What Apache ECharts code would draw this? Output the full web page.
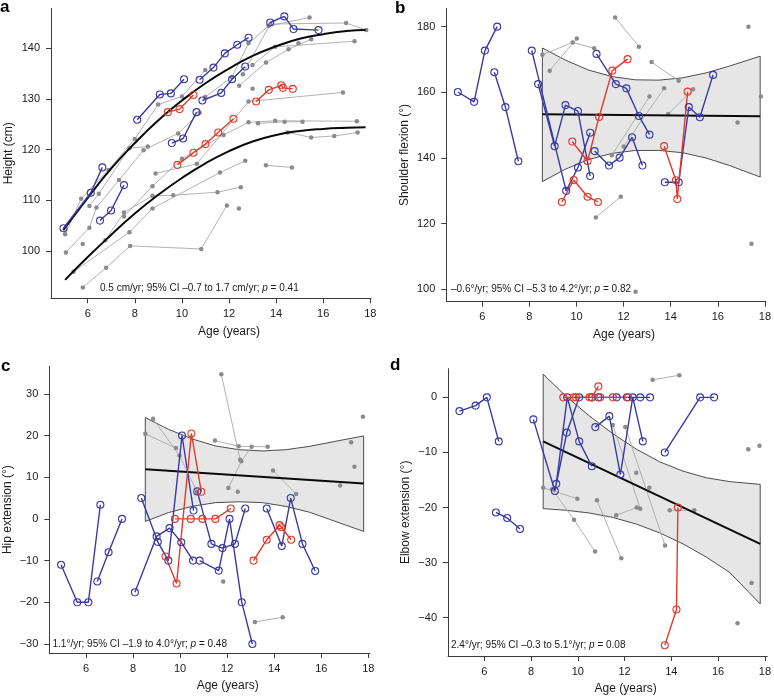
<!DOCTYPE html>
<html><head><meta charset="utf-8">
<script src="https://cdn.jsdelivr.net/npm/echarts@6/dist/echarts.min.js"></script>
<style>html,body{margin:0;padding:0;background:#fff}#chart{width:774px;height:696px}</style>
</head><body><div id="chart"></div>
<script>
// ---------- tick labels ----------
const ageTicks = [6, 8, 10, 12, 14, 16, 18];
const heightTicks = [100, 110, 120, 130, 140];
const shoulderTicks = [100, 120, 140, 160, 180];
const hipTicks = [-30, -20, -10, 0, 10, 20, 30];
const elbowTicks = [-40, -30, -20, -10, 0];

// ---------- panel a: height ----------
const heightBlue = [
  [[4.97,104.5],[6.13,111.5],[6.62,116.5]],
  [[6.52,106.0],[6.99,108.0],[7.54,113.0]],
  [[8.10,125.9],[9.06,130.9],[9.53,131.1],[10.09,133.9]],
  [[9.57,121.3],[10.05,122.2],[10.62,127.4]],
  [[10.87,129.7],[11.67,131.2],[12.13,133.9],[12.69,136.4]],
  [[10.75,133.8],[11.34,136.2],[11.82,139.0],[12.35,140.7],[12.83,142.1]],
  [[13.75,145.1],[14.35,146.3],[14.74,143.8],[15.80,143.6]]
];
const heightRed = [
  [[9.40,127.4],[9.90,128.0],[10.49,130.8]],
  [[9.81,117.0],[10.49,119.4],[11.00,121.1],[11.54,123.4],[12.19,126.1]],
  [[13.15,129.5],[13.69,131.8],[14.22,132.7],[14.29,132.2],[14.71,132.0]]
];
const heightGray = [
  [[5.04,103.3],[5.72,110.3],[6.88,116.0],[8.00,122.1],[8.99,128.9],[10.00,130.5],[10.99,135.7]],
  [[5.07,99.7],[6.07,104.6],[6.37,108.6],[7.33,114.0],[8.37,119.9],[9.84,123.2],[10.75,127.3]],
  [[5.79,92.8],[6.78,96.7],[7.80,101.0],[10.82,100.4],[11.91,109.0]],
  [[6.75,102.1],[7.54,107.6],[8.75,110.9],[9.63,111.0],[11.51,111.6],[12.50,112.6]],
  [[5.40,95.9],[7.77,103.7],[8.75,108.4],[11.62,115.5],[12.69,117.8]],
  [[7.54,106.8],[8.75,112.8],[10.00,118.2],[11.77,122.9],[12.83,125.4],[13.96,125.7],[17.43,125.6]],
  [[6.07,108.9],[6.47,111.3],[7.77,120.3],[8.55,120.6]],
  [[8.88,115.3],[10.63,117.2],[12.83,129.5],[16.84,131.3]],
  [[10.99,130.4],[12.12,134.3],[12.83,141.0],[13.68,144.4],[15.42,146.1]],
  [[12.59,134.9],[13.75,144.8],[16.97,145.0],[17.83,143.6]],
  [[13.00,136.7],[13.96,140.3],[17.33,141.4]],
  [[12.43,132.6],[13.57,137.2],[14.53,139.8],[15.49,141.8]],
  [[13.23,125.2],[14.36,125.5],[15.12,125.5]],
  [[14.49,123.4],[15.49,122.4],[16.47,122.7],[17.46,123.4]],
  [[13.57,116.9],[14.67,116.5]],
  [[14.95,141.0]], [[13.00,132.0]], [[12.42,108.4]], [[5.79,101.4]]
];
const heightUpperCurve = [[4.96,104.1],[6,110.5],[7,116.3],[8,121.3],[9,125.8],[10,129.7],[11,133.1],[12,136.0],[13,138.5],[14,140.4],[15,141.9],[16,142.8],[17,143.4],[17.8,143.6]];
const heightLowerCurve = [[5.04,94.3],[6,98.8],[7,103.2],[8,107.4],[9,111.1],[10,114.4],[11,117.3],[12,119.7],[13,121.6],[14,122.9],[15,123.7],[16,124.1],[17,124.3],[17.8,124.4]];

// ---------- panel b: shoulder flexion ----------
const shoulderBlue = [
  [[4.96,160.1],[5.65,157.1],[6.11,172.7],[6.63,180.0]],
  [[6.51,166.1],[6.98,155.5],[7.53,139.0]],
  [[8.10,172.7],[9.56,130.0],[10.06,137.1],[10.58,147.7]],
  [[8.37,162.5],[9.07,143.6],[9.53,156.1],[10.06,154.3],[10.58,134.5]],
  [[10.85,171.7],[11.67,162.5],[12.12,161.2],[12.65,152.8],[13.10,147.1]],
  [[10.77,142.1],[11.38,137.7],[11.83,140.1],[12.36,146.3],[12.80,137.7]],
  [[13.75,132.6],[14.34,132.6],[14.77,155.5],[15.24,152.4],[15.80,165.3]]
];
const shoulderRed = [
  [[9.82,145.0],[10.47,139.1],[10.96,152.5],[11.52,166.6],[12.17,170.1]],
  [[9.38,126.6],[9.88,133.3],[10.47,128.2],[10.91,126.6]],
  [[13.72,143.6],[14.22,133.2],[14.28,127.5],[14.72,160.2]]
];
const shoulderGray = [
  [[8.55,171.4],[9.84,175.2],[10.75,173.4]],
  [[8.86,166.6],[10.01,176.4]],
  [[11.64,182.8],[12.65,173.9]],
  [[13.19,169.2],[14.34,163.5]],
  [[11.50,140.8],[13.10,158.7]],
  [[12.00,143.5],[13.72,161.2]],
  [[13.90,153.4],[14.95,160.9]],
  [[10.82,121.9],[11.88,128.2]],
  [[16.84,150.8]], [[17.30,180.0]], [[17.83,158.7]], [[17.43,113.9]], [[12.51,99.3]]
];
const shoulderFit = [[8.55,153.3],[17.8,152.7]];
const shoulderUpper = [[8.55,173.5],[9.5,169.9],[10.5,166.8],[11.5,164.8],[12.5,163.8],[13.5,163.7],[14.5,164.4],[15.5,165.9],[16.5,168.0],[17.8,171.0]];
const shoulderLower = [[8.55,132.8],[9.5,136.5],[10.5,139.5],[11.5,141.4],[12.5,142.3],[13.5,142.3],[14.5,141.6],[15.5,140.0],[16.5,137.7],[17.8,134.2]];

// ---------- panel c: hip extension ----------
const hipBlue = [
  [[4.94,-11.0],[5.63,-20.0],[6.10,-20.0],[6.61,3.4]],
  [[6.48,-15.0],[6.96,-8.0],[7.53,0.0]],
  [[8.08,-17.6],[9.00,-4.2],[9.55,-2.2],[10.05,-5.6],[10.55,-10.0]],
  [[8.35,5.0],[9.05,-5.5],[9.50,-10.0],[10.08,20.0],[10.57,2.0]],
  [[10.83,-10.0],[11.64,-12.4],[12.10,0.0],[12.62,-20.0],[13.07,-30.0]],
  [[10.73,6.6],[11.33,-6.0],[11.80,-7.0],[12.33,-6.0],[12.77,2.5]],
  [[13.68,2.5],[14.32,-6.5],[14.70,5.0],[15.20,-6.0],[15.74,-12.5]]
];
const hipRed = [
  [[9.78,0.0],[10.45,0.0],[10.95,0.0],[11.50,0.0],[12.15,2.5]],
  [[9.38,-9.0],[9.85,-15.5],[10.48,20.5],[10.90,6.5]],
  [[13.12,-10.0],[13.68,-5.0],[14.23,-1.5],[14.30,-2.0],[14.72,-5.0]]
];
const hipGray = [
  [[8.52,20.4],[9.82,17.0]],
  [[8.85,24.0],[9.97,15.2],[10.72,6.5]],
  [[11.75,34.7],[12.55,14.2]],
  [[11.48,18.8],[12.49,17.4],[13.72,17.3]],
  [[12.05,7.4],[12.60,13.8],[13.04,17.3]],
  [[13.95,11.6],[14.93,6.0]],
  [[13.18,-24.7],[14.36,-23.6]],
  [[12.45,6.5]], [[11.83,-15.0]], [[16.80,8.0]], [[17.27,18.4]], [[17.41,12.5]], [[17.77,24.5]]
];
const hipFit = [[8.52,11.9],[17.8,8.5]];
const hipUpper = [[8.52,24.3],[9.5,21.5],[10.5,19.2],[11.5,17.5],[12.5,16.6],[13.5,16.3],[14.5,16.6],[15.5,17.4],[16.5,18.5],[17.8,19.9]];
const hipLower = [[8.52,-0.6],[9.5,1.5],[10.5,3.0],[11.5,3.9],[12.5,4.1],[13.5,3.9],[14.5,3.0],[15.5,1.6],[16.5,-0.4],[17.8,-3.0]];

// ---------- panel d: elbow extension ----------
const elbowBlue = [
  [[4.94,-2.5],[5.63,-1.5],[6.11,0.0],[6.62,-8.0]],
  [[6.50,-20.9],[6.98,-21.9],[7.53,-23.9]],
  [[8.10,-4.0],[9.02,-17.0],[9.53,-6.4],[10.06,0.0],[10.60,0.0]],
  [[9.08,-15.7],[9.55,0.0],[10.06,-8.0],[10.60,-12.5]],
  [[10.88,0.0],[11.66,0.0],[12.10,0.0],[12.67,0.0],[13.09,0.0]],
  [[10.75,-5.4],[11.35,-3.4],[11.82,-14.0],[12.35,0.0],[12.78,-8.0]],
  [[13.72,-10.0],[15.23,0.0],[15.83,0.0]]
];
const elbowRed = [
  [[9.82,0.0],[10.50,0.0],[10.96,0.0],[11.50,0.0],[12.15,0.0]],
  [[9.38,0.0],[9.92,0.0],[10.60,0.0],[10.88,2.0]],
  [[13.72,-45.0],[14.22,-38.5],[14.28,-20.0]]
];
const elbowGray = [
  [[8.52,-16.4],[9.98,-18.4]],
  [[8.90,-16.7],[9.84,-22.2],[10.74,-28.0]],
  [[10.82,-18.7],[11.86,-29.2]],
  [[11.50,-5.0],[12.67,-20.2]],
  [[12.03,-5.4],[13.73,-26.9]],
  [[11.64,-21.4],[12.52,-20.0]],
  [[13.20,3.2],[14.34,4.0]],
  [[13.93,-20.5],[14.98,-20.5]],
  [[12.50,-13.7]], [[13.06,-16.4]], [[17.29,-9.4]], [[17.77,-8.8]], [[17.43,-33.7]], [[16.83,-41.0]]
];
const elbowFit = [[8.52,-8.0],[17.8,-26.6]];
const elbowUpper = [[8.52,4.2],[9.5,0.2],[10.5,-3.4],[11.5,-6.6],[12.5,-9.4],[13.5,-11.7],[14.5,-13.4],[15.5,-14.6],[16.5,-15.3],[17.8,-15.8]];
const elbowLower = [[8.52,-20.2],[9.5,-20.5],[10.5,-21.0],[11.5,-21.8],[12.5,-23.0],[13.5,-24.6],[14.5,-26.6],[15.5,-29.0],[16.5,-31.8],[17.8,-37.5]];

// ---------- styling / layout ----------
const FONT = "'Liberation Sans', Arial, sans-serif";
const BLUE = '#3a3aa4';
const RED = '#e3392a';
const GRAY_LINE = '#a9a9a9';
const GRAY_DOT = '#8b8b8b';
const AXIS = '#3c3c3c';

const grids = [
  {left: 51, top: 8.3, width: 320, height: 290},
  {left: 446.3, top: 8.3, width: 322, height: 293.4},
  {left: 49.3, top: 366.3, width: 320.7, height: 286.7},
  {left: 448, top: 368.7, width: 322, height: 287.6}
];
const xRanges = [[4.44, 18.03], [4.47, 18.04], [4.44, 18.07], [4.45, 18.1]];
const yRanges = [[90.66, 147.9], [96.24, 185.58], [-32.16, 36.6], [-46.95, 5.2]];
const yTickSets = [heightTicks, shoulderTicks, hipTicks, elbowTicks];
const yNames = ['Height (cm)', 'Shoulder flexion (°)', 'Hip extension (°)', 'Elbow extension (°)'];

const fmt = v => String(v).replace('-', '\u2212');

const xAxes = grids.map((g, i) => ({
  type: 'value', gridIndex: i, min: xRanges[i][0], max: xRanges[i][1],
  name: 'Age (years)', nameLocation: 'middle', nameGap: 27,
  nameTextStyle: {fontFamily: FONT, fontSize: 12, color: '#1a1a1a', padding: [0, 0, 0, 36]},
  axisLine: {show: true, onZero: false, lineStyle: {color: AXIS, width: 1}},
  axisTick: {show: true, customValues: ageTicks, length: 5, lineStyle: {color: AXIS, width: 1}},
  axisLabel: {customValues: ageTicks, fontFamily: FONT, fontSize: 11, color: '#1a1a1a', margin: 10, formatter: fmt},
  splitLine: {show: false}
}));
const yAxes = grids.map((g, i) => ({
  type: 'value', gridIndex: i, min: yRanges[i][0], max: yRanges[i][1],
  name: yNames[i], nameLocation: 'middle', nameGap: 36, nameRotate: 90,
  nameTextStyle: {fontFamily: FONT, fontSize: 12, color: '#1a1a1a'},
  axisLine: {show: true, onZero: false, lineStyle: {color: AXIS, width: 1}},
  axisTick: {show: true, customValues: yTickSets[i], length: 5, lineStyle: {color: AXIS, width: 1}},
  axisLabel: {customValues: yTickSets[i], fontFamily: FONT, fontSize: 11, color: '#1a1a1a', margin: 11, formatter: fmt},
  splitLine: {show: false}
}));

const series = [];
function addGray(list, gi) {
  list.forEach(pts => series.push({
    type: 'line', xAxisIndex: gi, yAxisIndex: gi, data: pts,
    symbol: 'circle', symbolSize: 4.5, showSymbol: true,
    lineStyle: {color: GRAY_LINE, width: 0.9},
    itemStyle: {color: GRAY_DOT}, z: 3, silent: true
  }));
}
function addColored(list, gi, color) {
  list.forEach(pts => series.push({
    type: 'line', xAxisIndex: gi, yAxisIndex: gi, data: pts,
    symbol: 'circle', symbolSize: 7, showSymbol: true,
    lineStyle: {color: color, width: 1.4},
    itemStyle: {color: 'rgba(255,255,255,0)', borderColor: color, borderWidth: 1.1},
    z: 5, silent: true
  }));
}
function addBand(upper, lower, gi) {
  series.push({
    type: 'custom', xAxisIndex: gi, yAxisIndex: gi, data: [upper[0]], z: 1, silent: true,
    renderItem: (params, api) => {
      const pts = upper.map(p => api.coord(p)).concat(lower.slice().reverse().map(p => api.coord(p)));
      return {type: 'polygon', shape: {points: pts}, style: {fill: '#e6e6e6', stroke: '#3a3a3a', lineWidth: 0.9}};
    }
  });
}
function addCurve(pts, gi, smooth) {
  series.push({
    type: 'line', xAxisIndex: gi, yAxisIndex: gi, data: pts, smooth: smooth,
    symbol: 'none', lineStyle: {color: '#0a0a0a', width: 2}, z: 4, silent: true
  });
}

// a
addGray(heightGray, 0);
addCurve(heightUpperCurve, 0, true);
addCurve(heightLowerCurve, 0, true);
addColored(heightBlue, 0, BLUE);
addColored(heightRed, 0, RED);
// b
addBand(shoulderUpper, shoulderLower, 1);
addGray(shoulderGray, 1);
addCurve(shoulderFit, 1, false);
addColored(shoulderBlue, 1, BLUE);
addColored(shoulderRed, 1, RED);
// c
addBand(hipUpper, hipLower, 2);
addGray(hipGray, 2);
addCurve(hipFit, 2, false);
addColored(hipBlue, 2, BLUE);
addColored(hipRed, 2, RED);
// d
addBand(elbowUpper, elbowLower, 3);
addGray(elbowGray, 3);
addCurve(elbowFit, 3, false);
addColored(elbowBlue, 3, BLUE);
addColored(elbowRed, 3, RED);

const rich = {
  n: {fontFamily: FONT, fontSize: 10, fill: '#1a1a1a', color: '#1a1a1a'},
  i: {fontFamily: FONT, fontSize: 10, fontStyle: 'italic', fill: '#1a1a1a', color: '#1a1a1a'}
};
function note(x, y, before, after) {
  return {type: 'text', x: x, y: y, z: 10,
    style: {text: '{n|' + before + '}{i|p}{n|' + after + '}', rich: rich, verticalAlign: 'middle', align: 'left'}};
}
function panelLabel(x, y, t) {
  return {type: 'text', x: x, y: y, z: 10,
    style: {text: t, font: 'bold 17px ' + FONT, fill: '#000', verticalAlign: 'middle', align: 'left'}};
}

const option = {
  animation: false,
  backgroundColor: '#ffffff',
  grid: grids,
  xAxis: xAxes,
  yAxis: yAxes,
  series: series,
  graphic: [
    panelLabel(0, 7, 'a'), panelLabel(395, 8, 'b'),
    panelLabel(1, 366, 'c'), panelLabel(390, 365, 'd'),
    note(100, 288, '0.5 cm/yr; 95% CI \u20130.7 to 1.7 cm/yr; ', ' = 0.41'),
    note(451, 289.5, '\u20130.6°/yr; 95% CI \u20135.3 to 4.2°/yr; ', ' = 0.82'),
    note(52.5, 644.5, '1.1°/yr; 95% CI \u20131.9 to 4.0°/yr; ', ' = 0.48'),
    note(451, 645.5, '2.4°/yr; 95% CI \u20130.3 to 5.1°/yr; ', ' = 0.08')
  ]
};
const chart = echarts.init(document.getElementById('chart'), null, {renderer: 'canvas'});
chart.setOption(option);
</script></body></html>
